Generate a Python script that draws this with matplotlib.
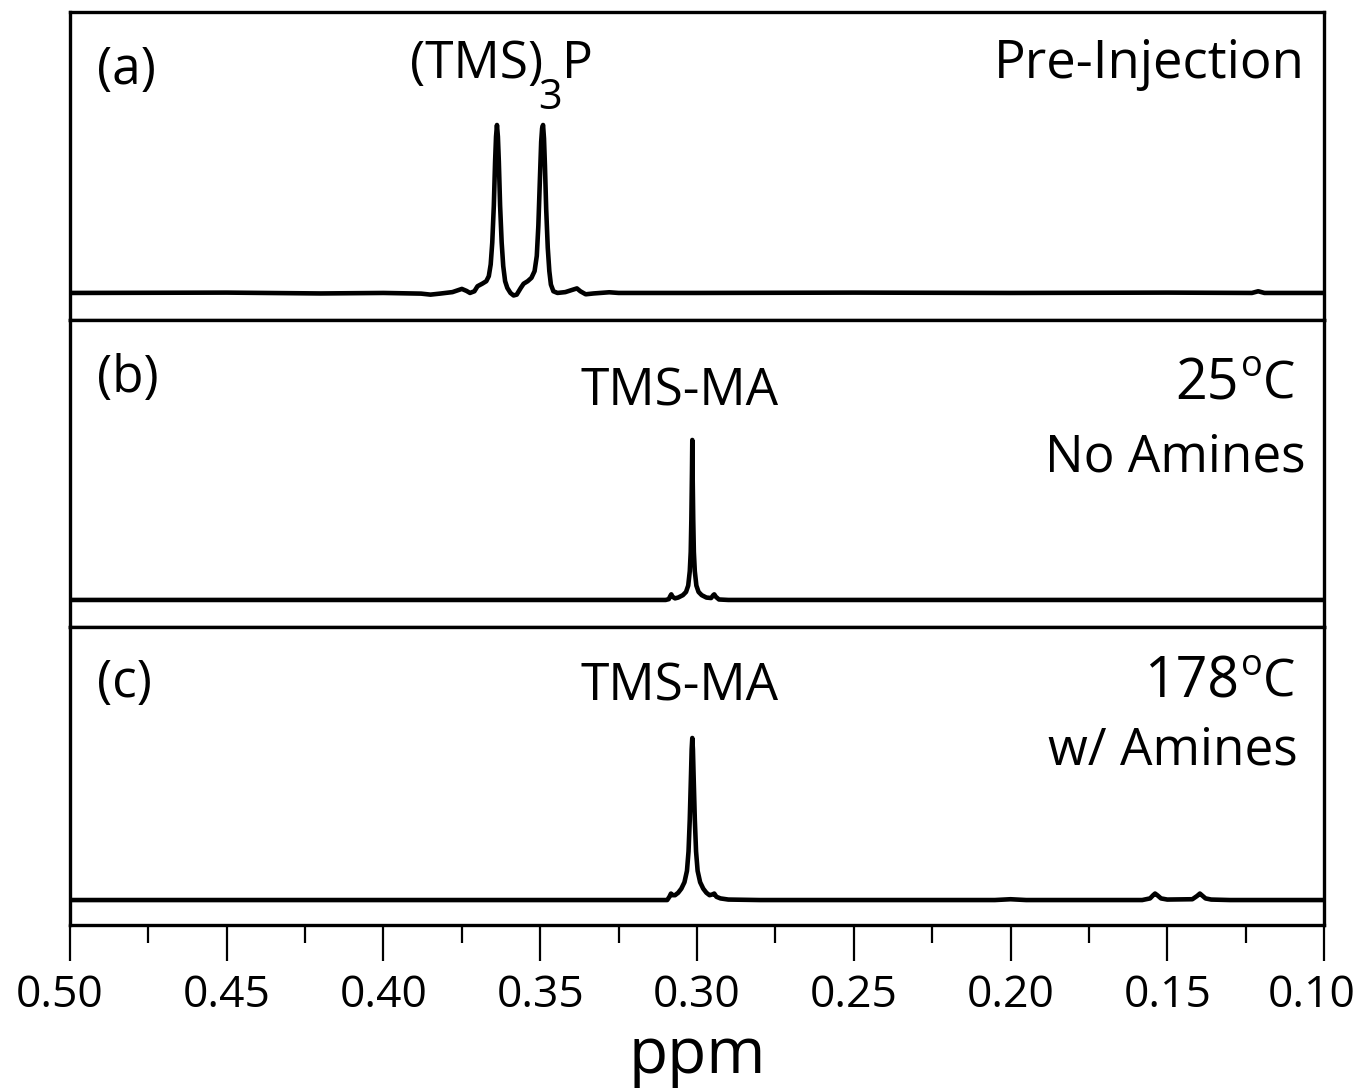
import numpy as np
import matplotlib
matplotlib.use("Agg")
import matplotlib.pyplot as plt
from matplotlib.ticker import MultipleLocator
from matplotlib.transforms import ScaledTranslation

plt.rcParams['font.family'] = ['Open Sans', 'DejaVu Sans']

# Spectrum (a): (TMS)3P pre-injection, intensity normalised to tallest peak
ppm_a = [0.500, 0.450, 0.420, 0.400, 0.388, 0.385, 0.382, 0.378, 0.375, 0.3735,
         0.3724, 0.3710, 0.3700, 0.3685, 0.3672, 0.3664, 0.3658, 0.3653, 0.3648,
         0.3644, 0.3641, 0.3638, 0.3635, 0.3632, 0.3628, 0.3623, 0.3618, 0.3612,
         0.3605, 0.3595, 0.3585, 0.3575, 0.3562, 0.3553, 0.3540, 0.3528, 0.3518,
         0.3511, 0.3506, 0.3501, 0.3497, 0.3494, 0.3491, 0.3488, 0.3485, 0.3481,
         0.3476, 0.3471, 0.3466, 0.3458, 0.3445, 0.3420, 0.3395, 0.3383, 0.3372,
         0.3355, 0.3330, 0.3280, 0.3250, 0.3000, 0.2500, 0.2000, 0.1500, 0.1230,
         0.1210, 0.1190, 0.1000]
int_a = [0.000, 0.002, -0.003, 0.000, -0.004, -0.010, -0.004, 0.005, 0.024, 0.012,
         0.000, 0.010, 0.040, 0.055, 0.070, 0.100, 0.170, 0.300, 0.520,
         0.780, 0.930, 1.000, 0.930, 0.780, 0.520, 0.300, 0.160, 0.070,
         0.030, 0.000, -0.015, -0.010, 0.030, 0.055, 0.070, 0.090, 0.130,
         0.220, 0.400, 0.680, 0.900, 0.980, 1.000, 0.920, 0.760, 0.500,
         0.270, 0.130, 0.050, 0.010, 0.000, 0.005, 0.020, 0.027, 0.010,
         -0.008, -0.003, 0.004, 0.000, 0.000, 0.002, 0.000, 0.002, 0.000,
         0.010, 0.000, 0.000]

# Spectrum (b): 25 C, no amines
ppm_b = [0.500, 0.420, 0.3100, 0.3090, 0.3085, 0.3082, 0.3078, 0.3070, 0.3060,
         0.3045, 0.3035, 0.3028, 0.3023, 0.3020, 0.3018, 0.3016, 0.3015, 0.3014,
         0.3012, 0.3010, 0.3007, 0.3002, 0.2995, 0.2985, 0.2970, 0.2955, 0.2948,
         0.2945, 0.2940, 0.2930, 0.2900, 0.100]
int_b = [0.000, 0.000, 0.000, 0.005, 0.025, 0.035, 0.020, 0.010, 0.015,
         0.030, 0.050, 0.090, 0.180, 0.300, 0.500, 0.800, 1.000, 0.800,
         0.500, 0.300, 0.180, 0.090, 0.050, 0.030, 0.015, 0.012, 0.030,
         0.035, 0.020, 0.003, 0.000, 0.000]

# Spectrum (c): 178 C, with amines
ppm_c = [0.500, 0.420, 0.3095, 0.3088, 0.3083, 0.3078, 0.3070, 0.3060, 0.3050,
         0.3040, 0.3032, 0.3027, 0.3023, 0.3019, 0.3017, 0.3015, 0.3013, 0.3011,
         0.3007, 0.3003, 0.2998, 0.2990, 0.2980, 0.2970, 0.2960, 0.2950, 0.2945,
         0.2938, 0.2925, 0.2900, 0.2800, 0.2050, 0.2000, 0.1950, 0.1580, 0.1555,
         0.1545, 0.1539, 0.1532, 0.1520, 0.1500, 0.1420, 0.1405, 0.1396, 0.1390,
         0.1378, 0.1360, 0.1300, 0.1000]
int_c = [0.000, 0.000, 0.000, 0.020, 0.040, 0.030, 0.030, 0.045, 0.070,
         0.110, 0.180, 0.300, 0.500, 0.780, 0.930, 1.000, 0.930, 0.780,
         0.500, 0.300, 0.180, 0.110, 0.070, 0.045, 0.030, 0.035, 0.040,
         0.020, 0.010, 0.003, 0.000, 0.000, 0.005, 0.000, 0.000, 0.010,
         0.030, 0.040, 0.030, 0.010, 0.003, 0.005, 0.025, 0.040, 0.030,
         0.010, 0.003, 0.000, 0.000]

panel_labels = ['(a)', '(b)', '(c)']
peak_labels = ['TMS-MA', 'TMS-MA']
temps = ['25', '178']
conditions = ['No Amines', 'w/ Amines']
x_ticks = [0.50, 0.45, 0.40, 0.35, 0.30, 0.25, 0.20, 0.15, 0.10]

fig, axes = plt.subplots(3, 1, figsize=(13.58, 10.89), dpi=100, sharex=True,
                         gridspec_kw={'height_ratios': [308, 307, 298], 'hspace': 0})
fig.subplots_adjust(left=0.0515, right=0.975, top=0.989, bottom=0.1506)

spectra = [(ppm_a, int_a), (ppm_b, int_b), (ppm_c, int_c)]
ylims = [(-0.161, 1.673), (-0.169, 1.75), (-0.154, 1.685)]

for ax, (x, y), yl in zip(axes, spectra, ylims):
    ax.plot(x, y, color='black', lw=3.3, solid_joinstyle='round')
    ax.set_ylim(yl)
    ax.set_yticks([])
    for s in ax.spines.values():
        s.set_linewidth(2.4)
    ax.tick_params(axis='x', which='both', bottom=False, top=False, labelbottom=False)

ax = axes[-1]
ax.set_xlim(0.50, 0.10)
ax.set_xticks(x_ticks)
ax.xaxis.set_minor_locator(MultipleLocator(0.025))
ax.tick_params(axis='x', which='major', bottom=True, labelbottom=True, direction='out',
               length=26, width=1.6, pad=9, labelsize=32)
ax.tick_params(axis='x', which='minor', bottom=True, direction='out', length=13, width=1.6)
labels = ax.set_xticklabels([f'{t:.2f}' for t in x_ticks])
# end labels sit a little left so they stay inside the figure
for lab, dx in [(labels[0], -10), (labels[-1], -12)]:
    lab.set_transform(lab.get_transform() + ScaledTranslation(dx / 100, 0, fig.dpi_scale_trans))
ax.set_xlabel('ppm', fontsize=46, labelpad=4)

fs = 37
for ax, lab in zip(axes, panel_labels):
    ax.text(0.0215, 0.81, lab, transform=ax.transAxes, fontsize=fs, ha='left', va='center')

# Panel (a): (TMS)3 P with a lowered subscript
a0 = axes[0]
a0.text(0.271, 0.83, '(TMS)', transform=a0.transAxes, fontsize=fs, ha='left', va='center')
a0.text(0.3735, 0.72, '3', transform=a0.transAxes, fontsize=30, ha='left', va='center')
a0.text(0.392, 0.83, 'P', transform=a0.transAxes, fontsize=fs, ha='left', va='center')
a0.text(0.985, 0.83, 'Pre-Injection', transform=a0.transAxes, fontsize=38,
        ha='right', va='center')

# Panels (b) and (c): species, temperature, condition
name_y = [0.765, 0.80]
temp_y = [0.788, 0.812]
cond_y = [0.55, 0.585]
cond_x = [0.985, 0.979]
for ax, pk, t, cond, ny, ty, cy, cx in zip(axes[1:], peak_labels, temps, conditions,
                                           name_y, temp_y, cond_y, cond_x):
    ax.text(0.486, ny, pk, transform=ax.transAxes, fontsize=fs, ha='center', va='center')
    ax.text(0.932, ty, t, transform=ax.transAxes, fontsize=40, ha='right', va='center')
    ax.text(0.9425, ty + 0.058, 'o', transform=ax.transAxes, fontsize=26,
            ha='center', va='center')
    ax.text(0.977, ty, 'C', transform=ax.transAxes, fontsize=fs, ha='right', va='center')
    ax.text(cx, cy, cond, transform=ax.transAxes, fontsize=fs, ha='right', va='center')

plt.savefig('out.png', dpi=100)
